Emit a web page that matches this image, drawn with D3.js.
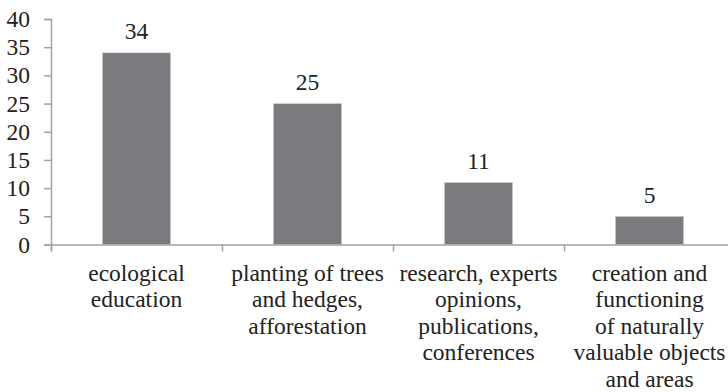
<!DOCTYPE html>
<html><head><meta charset="utf-8">
<script src="https://cdn.jsdelivr.net/npm/d3@7/dist/d3.min.js"></script>
<style>body{margin:0;background:#fff}svg{display:block}</style>
</head><body>
<script>
const categories = [
  ["ecological", "education"],
  ["planting of trees", "and hedges,", "afforestation"],
  ["research, experts", "opinions,", "publications,", "conferences"],
  ["creation and", "functioning", "of naturally", "valuable objects", "and areas"]
];
const values = [34, 25, 11, 5];
const yTicks = [0, 5, 10, 15, 20, 25, 30, 35, 40];

const W = 728, H = 392;
const svg = d3.select("body").append("svg").attr("width", W).attr("height", H);
const font = "Liberation Serif";
const fs = "23.5px";
const axisColor = "#a3a3a3";

const x = d3.scaleBand().domain(d3.range(values.length)).range([51, 735]).paddingInner(0.6).paddingOuter(0.3);
const y = d3.scaleLinear().domain([0, 40]).range([244.5, 19]);

// y axis
const ya = svg.append("g").attr("transform", "translate(51,0)")
  .call(d3.axisLeft(y).tickValues(yTicks).tickSize(7).tickPadding(14));
ya.attr("font-family", null).attr("font-size", null);
ya.select(".domain").attr("stroke", axisColor).attr("stroke-width", 1.5);
ya.selectAll(".tick line").attr("stroke", axisColor).attr("stroke-width", 1.5);
ya.selectAll(".tick text").style("font-family", font).style("font-size", fs).attr("fill", "#222");

// bars
svg.selectAll("rect.bar").data(values).join("rect").attr("class", "bar")
  .attr("x", (d, i) => x(i)).attr("width", x.bandwidth())
  .attr("y", d => y(d)).attr("height", d => y(0) - y(d))
  .attr("fill", "#7a7b7e").attr("stroke", "#d8d8d8").attr("stroke-width", 0.6);

// value labels
svg.selectAll("text.val").data(values).join("text").attr("class", "val")
  .attr("x", (d, i) => x(i) + x.bandwidth() / 2).attr("y", d => y(d) - 13.5)
  .attr("text-anchor", "middle").style("font-family", font).style("font-size", fs).attr("fill", "#222")
  .text(d => d);

// x axis
const step = x.step();
const xb = d3.scaleLinear().domain([0, 4]).range([51, 51 + 4 * step]);
const xa = svg.append("g").attr("transform", `translate(0,${y(0)})`)
  .call(d3.axisBottom(xb).tickValues([0, 1, 2, 3]).tickSize(7).tickFormat(""));
xa.select(".domain").attr("stroke", axisColor).attr("stroke-width", 1.5);
xa.selectAll(".tick line").attr("stroke", axisColor).attr("stroke-width", 1.5);

// category labels
const lab = svg.selectAll("text.cat").data(categories).join("text").attr("class", "cat")
  .attr("text-anchor", "middle").style("font-family", font).style("font-size", fs).attr("fill", "#222");
lab.each(function(lines, i) {
  const cx = x(i) + x.bandwidth() / 2;
  d3.select(this).selectAll("tspan").data(lines).join("tspan")
    .attr("x", cx).attr("y", (d, j) => 281 + j * 26.4).text(d => d);
});
</script>
</body></html>
